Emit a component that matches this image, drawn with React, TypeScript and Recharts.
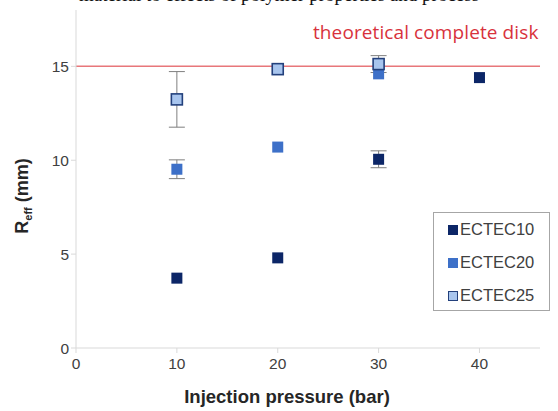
import { ScatterChart, Scatter, XAxis, YAxis, ReferenceLine, ErrorBar } from 'recharts'

const pressures = [10, 20, 30, 40]
const ectec10 = [3.72, 4.8, 10.05, 14.4]
const ectec10Err = [0, 0, 0.45, 0]
const ectec20 = [9.52, 10.7, 14.6]
const ectec20Err = [0.5, 0, 0]
const ectec25 = [13.24, 14.85, 15.12]
const ectec25Err = [1.48, 0, 0.45]

const xTicks = [0, 10, 20, 30, 40]
const yTicks = [0, 5, 10, 15]
const theoretical = 15

const build = (vals: number[], errs: number[]) =>
  vals.map((v, i) => ({ x: pressures[i], y: v, err: errs[i] }))

const seriesList = [
  { name: 'ECTEC10', data: build(ectec10, ectec10Err), fill: '#0c2667', stroke: '#0c2667' },
  { name: 'ECTEC20', data: build(ectec20, ectec20Err), fill: '#3d70c8', stroke: '#3d70c8' },
  { name: 'ECTEC25', data: build(ectec25, ectec25Err), fill: '#a8c5ee', stroke: '#23407c' },
]

const square = (fill: string, stroke: string) => (p: any) => (
  <rect x={p.cx - 5.5} y={p.cy - 5.5} width={11} height={11} fill={fill} stroke={stroke} strokeWidth={stroke === fill ? 0 : 1.6} />
)

const font = 'Liberation Sans, Arial, sans-serif'

const LegendBox = () => (
  <div style={{ position: 'absolute', left: 433, top: 212, width: 117, height: 99, border: '1px solid #a6a6a6', background: '#fff', boxSizing: 'border-box', paddingTop: 0 }}>
    {seriesList.map((s) => (
      <div key={s.name} style={{ display: 'flex', alignItems: 'center', height: 33, paddingLeft: 14, fontFamily: font, fontSize: 16.5, color: '#404040' }}>
        <span style={{ width: 10, height: 10, background: s.fill, border: s.stroke === s.fill ? 'none' : `1.5px solid ${s.stroke}`, boxSizing: 'border-box', marginRight: 2, display: 'inline-block' }} />
        {s.name}
      </div>
    ))}
  </div>
)

export default function App() {
  return (
    <div style={{ position: 'absolute', left: 0, top: 0, width: 558, height: 411, background: '#fff', overflow: 'hidden' }}>
      <div style={{ position: 'absolute', left: 0, top: -16, width: 558, whiteSpace: 'nowrap', fontFamily: 'Liberation Serif, serif', fontSize: 19, color: '#111', textAlign: 'center' }}>
        material to effects of polymer properties and process
      </div>
      <div style={{ position: 'absolute', left: 313, top: 19, fontFamily: 'Open Sans, sans-serif', fontSize: 19, letterSpacing: 0.1, color: '#d8323c' }}>
        theoretical complete disk
      </div>
      <ScatterChart width={558} height={411} margin={{ top: 10, right: 18, bottom: 33, left: 0 }}>
        <XAxis
          type="number"
          dataKey="x"
          domain={[0, 46]}
          ticks={xTicks}
          height={30}
          stroke="#d9d9d9"
          tickSize={5}
          tick={{ fill: '#404040', fontSize: 15.5, fontFamily: font, dy: 3 }}
          label={{ value: 'Injection pressure (bar)', position: 'insideBottom', offset: -25, fill: '#262626', fontSize: 18.5, fontWeight: 'bold', fontFamily: font, dx: -21 }}
        />
        <YAxis
          type="number"
          dataKey="y"
          domain={[0, 18]}
          ticks={yTicks}
          width={76}
          stroke="#d9d9d9"
          tickSize={5}
          tick={{ fill: '#404040', fontSize: 15.5, fontFamily: font }}
          label={{
            content: () => (
              <text transform="translate(28,196) rotate(-90)" textAnchor="middle" fill="#262626" fontFamily={font} fontSize={18} fontWeight="bold">
                R<tspan fontSize={11} dy={4}>eff</tspan><tspan dy={-4}> (mm)</tspan>
              </text>
            ),
          }}
        />
        <ReferenceLine y={theoretical} stroke="#e8777a" strokeWidth={1.5} />
        {seriesList.map((s) => (
          <Scatter key={s.name} name={s.name} data={s.data} isAnimationActive={false} shape={square(s.fill, s.stroke)}>
            <ErrorBar dataKey="err" direction="y" width={8} stroke="#7f7f7f" strokeWidth={1} />
          </Scatter>
        ))}
      </ScatterChart>
      <LegendBox />
    </div>
  )
}
